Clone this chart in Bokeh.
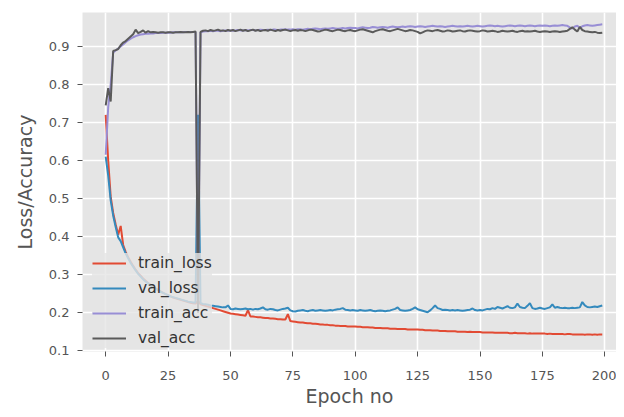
from bokeh.plotting import figure
from bokeh.models import Range1d, Legend, LegendItem, FixedTicker
from bokeh.embed import file_html
from bokeh.resources import INLINE

epochs = list(range(200))

train_loss = [
    0.720, 0.600, 0.505, 0.462, 0.432, 0.405, 0.428, 0.378, 0.360, 0.346,
    0.334, 0.323, 0.313, 0.304, 0.297, 0.290, 0.284, 0.278, 0.273, 0.268,
    0.264, 0.260, 0.256, 0.252, 0.249, 0.246, 0.243, 0.240, 0.238, 0.236,
    0.234, 0.232, 0.230, 0.228, 0.226, 0.225, 0.224, 0.232, 0.222, 0.220,
    0.218, 0.216, 0.214, 0.212, 0.210, 0.208, 0.206, 0.204, 0.202, 0.200,
    0.198, 0.197, 0.196, 0.195, 0.194, 0.193, 0.192, 0.207, 0.190, 0.190,
    0.189, 0.188, 0.188, 0.187, 0.186, 0.186, 0.185, 0.185, 0.184, 0.183,
    0.183, 0.182, 0.182, 0.196, 0.178, 0.177, 0.176, 0.175, 0.174, 0.174,
    0.173, 0.172, 0.172, 0.171, 0.171, 0.170, 0.169, 0.169, 0.168, 0.168,
    0.167, 0.167, 0.166, 0.166, 0.165, 0.165, 0.165, 0.164, 0.164, 0.164,
    0.164, 0.163, 0.163, 0.162, 0.162, 0.162, 0.161, 0.161, 0.160, 0.160,
    0.160, 0.159, 0.159, 0.159, 0.158, 0.158, 0.158, 0.157, 0.157, 0.157,
    0.157, 0.156, 0.156, 0.156, 0.156, 0.156, 0.155, 0.155, 0.154, 0.154,
    0.154, 0.153, 0.153, 0.153, 0.152, 0.152, 0.152, 0.151, 0.151, 0.151,
    0.151, 0.150, 0.150, 0.150, 0.150, 0.149, 0.150, 0.149, 0.149, 0.149,
    0.149, 0.148, 0.148, 0.148, 0.148, 0.148, 0.147, 0.147, 0.147, 0.147,
    0.147, 0.147, 0.146, 0.146, 0.147, 0.146, 0.146, 0.146, 0.146, 0.145,
    0.146, 0.145, 0.145, 0.145, 0.145, 0.145, 0.145, 0.144, 0.145, 0.144,
    0.144, 0.144, 0.144, 0.144, 0.143, 0.144, 0.144, 0.143, 0.143, 0.143,
    0.143, 0.143, 0.142, 0.143, 0.143, 0.142, 0.143, 0.142, 0.143, 0.143,
]

val_loss = [
    0.610, 0.560, 0.495, 0.455, 0.425, 0.398, 0.388, 0.372, 0.356, 0.343,
    0.331, 0.321, 0.311, 0.302, 0.295, 0.288, 0.282, 0.277, 0.272, 0.267,
    0.263, 0.259, 0.255, 0.252, 0.249, 0.246, 0.243, 0.241, 0.239, 0.237,
    0.235, 0.233, 0.231, 0.229, 0.228, 0.227, 0.226, 0.720, 0.225, 0.223,
    0.222, 0.221, 0.219, 0.218, 0.217, 0.216, 0.215, 0.214, 0.214, 0.219,
    0.210, 0.209, 0.211, 0.210, 0.209, 0.210, 0.211, 0.209, 0.210, 0.208,
    0.210, 0.209, 0.211, 0.214, 0.209, 0.208, 0.210, 0.209, 0.207, 0.206,
    0.208, 0.210, 0.211, 0.213, 0.206, 0.204, 0.203, 0.205, 0.206, 0.207,
    0.205, 0.204, 0.206, 0.207, 0.205, 0.206, 0.207, 0.206, 0.205, 0.206,
    0.207, 0.206, 0.208, 0.209, 0.210, 0.212, 0.208, 0.207, 0.206, 0.207,
    0.206, 0.205, 0.207, 0.206, 0.205, 0.206, 0.207, 0.205, 0.204, 0.205,
    0.206, 0.205, 0.204, 0.205, 0.206, 0.208, 0.210, 0.214, 0.207, 0.206,
    0.205, 0.206, 0.207, 0.210, 0.214, 0.209, 0.207, 0.205, 0.203, 0.201,
    0.206, 0.212, 0.219, 0.212, 0.210, 0.207, 0.208, 0.207, 0.206, 0.207,
    0.206, 0.207, 0.206, 0.205, 0.206, 0.207, 0.208, 0.211, 0.207, 0.206,
    0.207, 0.206, 0.208, 0.210, 0.209, 0.212, 0.210, 0.215, 0.213, 0.211,
    0.214, 0.217, 0.213, 0.212, 0.214, 0.224, 0.215, 0.213, 0.212, 0.218,
    0.225, 0.212, 0.210, 0.211, 0.213, 0.211, 0.210, 0.212, 0.214, 0.222,
    0.213, 0.215, 0.213, 0.212, 0.213, 0.212, 0.212, 0.213, 0.212, 0.213,
    0.214, 0.228, 0.219, 0.215, 0.214, 0.215, 0.216, 0.215, 0.217, 0.219,
]

train_acc = [
    0.615, 0.740, 0.800, 0.884, 0.889, 0.894, 0.900, 0.905, 0.911, 0.916,
    0.920, 0.924, 0.927, 0.929, 0.931, 0.932, 0.933, 0.933, 0.934, 0.934,
    0.935, 0.935, 0.935, 0.936, 0.936, 0.936, 0.936, 0.937, 0.937, 0.937,
    0.937, 0.937, 0.938, 0.938, 0.938, 0.938, 0.938, 0.220, 0.937, 0.939,
    0.940, 0.940, 0.941, 0.940, 0.941, 0.941, 0.940, 0.941, 0.942, 0.941,
    0.942, 0.941, 0.942, 0.943, 0.942, 0.942, 0.943, 0.942, 0.943, 0.943,
    0.942, 0.943, 0.944, 0.943, 0.943, 0.944, 0.943, 0.944, 0.944, 0.943,
    0.944, 0.944, 0.945, 0.944, 0.944, 0.945, 0.944, 0.945, 0.945, 0.944,
    0.945, 0.946, 0.945, 0.946, 0.947, 0.946, 0.945, 0.946, 0.947, 0.946,
    0.947, 0.948, 0.947, 0.946, 0.947, 0.948, 0.947, 0.948, 0.949, 0.948,
    0.948, 0.947, 0.949, 0.950, 0.949, 0.948, 0.949, 0.951, 0.950, 0.949,
    0.950, 0.951, 0.950, 0.949, 0.951, 0.952, 0.951, 0.950, 0.951, 0.952,
    0.951, 0.952, 0.953, 0.952, 0.951, 0.952, 0.953, 0.952, 0.951, 0.952,
    0.953, 0.954, 0.953, 0.952, 0.953, 0.952, 0.951, 0.952, 0.953, 0.954,
    0.953, 0.952, 0.953, 0.952, 0.953, 0.954, 0.953, 0.952, 0.953, 0.954,
    0.953, 0.952, 0.953, 0.954, 0.955, 0.954, 0.953, 0.954, 0.953, 0.952,
    0.953, 0.954, 0.955, 0.954, 0.953, 0.954, 0.955, 0.954, 0.953, 0.954,
    0.955, 0.954, 0.953, 0.954, 0.955, 0.954, 0.955, 0.954, 0.953, 0.954,
    0.955, 0.954, 0.955, 0.956, 0.955, 0.954, 0.950, 0.947, 0.952, 0.954,
    0.948, 0.953, 0.955, 0.956, 0.955, 0.954, 0.955, 0.956, 0.957, 0.958,
]

val_acc = [
    0.745, 0.790, 0.755, 0.888, 0.890, 0.893, 0.903, 0.910, 0.914, 0.920,
    0.926, 0.932, 0.944, 0.935, 0.938, 0.942, 0.936, 0.940, 0.937, 0.938,
    0.937, 0.936, 0.937, 0.937, 0.936, 0.937, 0.937, 0.936, 0.937, 0.937,
    0.938, 0.937, 0.937, 0.938, 0.937, 0.938, 0.939, 0.200, 0.938, 0.941,
    0.942, 0.940, 0.943, 0.941, 0.942, 0.944, 0.941, 0.942, 0.940, 0.943,
    0.941, 0.943, 0.940, 0.942, 0.944, 0.941, 0.943, 0.940, 0.942, 0.944,
    0.941, 0.943, 0.940, 0.942, 0.943, 0.941, 0.944, 0.942, 0.940, 0.943,
    0.941, 0.943, 0.944, 0.942, 0.940, 0.942, 0.943, 0.941, 0.943, 0.942,
    0.940, 0.942, 0.944, 0.943, 0.941, 0.939, 0.940, 0.942, 0.944, 0.943,
    0.941, 0.940, 0.942, 0.944, 0.943, 0.941, 0.940, 0.942, 0.943, 0.941,
    0.940, 0.942, 0.944, 0.945, 0.943, 0.941, 0.939, 0.937, 0.940, 0.942,
    0.944, 0.945, 0.943, 0.941, 0.940, 0.942, 0.944, 0.946, 0.944, 0.942,
    0.940, 0.941, 0.943, 0.942, 0.940, 0.938, 0.934, 0.937, 0.940, 0.942,
    0.941, 0.940, 0.942, 0.943, 0.941, 0.939, 0.940, 0.942, 0.941, 0.939,
    0.940, 0.941, 0.942, 0.940, 0.939, 0.941, 0.942, 0.941, 0.940, 0.939,
    0.940, 0.942, 0.941, 0.939, 0.940, 0.941, 0.940, 0.938, 0.939, 0.941,
    0.940, 0.939, 0.940, 0.941, 0.939, 0.938, 0.940, 0.941, 0.939, 0.940,
    0.939, 0.940, 0.941, 0.939, 0.938, 0.939, 0.940, 0.939, 0.938, 0.939,
    0.940, 0.939, 0.938, 0.939, 0.940, 0.941, 0.946, 0.950, 0.944, 0.939,
    0.951, 0.943, 0.940, 0.939, 0.938, 0.937, 0.938, 0.936, 0.935, 0.936,
]

x_ticks = [0, 25, 50, 75, 100, 125, 150, 175, 200]
y_ticks = [0.1, 0.2, 0.3, 0.4, 0.5, 0.6, 0.7, 0.8, 0.9]

series = [
    ("train_loss", train_loss, "#E24A33"),
    ("val_loss", val_loss, "#348ABD"),
    ("train_acc", train_acc, "#988ED5"),
    ("val_acc", val_acc, "#5a5a5a"),
]

FONT = "DejaVu Sans"

p = figure(width=616, height=409, output_backend="svg", toolbar_location=None,
           x_range=Range1d(-9.3, 204.7), y_range=Range1d(0.098, 0.989),
           min_border_left=82, min_border_right=0, min_border_top=12,
           min_border_bottom=53)

p.background_fill_color = "#E5E5E5"
p.border_fill_color = "white"
p.outline_line_color = None

p.xaxis.ticker = FixedTicker(ticks=x_ticks)
p.yaxis.ticker = FixedTicker(ticks=y_ticks)
p.xgrid.ticker = FixedTicker(ticks=x_ticks)
p.ygrid.ticker = FixedTicker(ticks=y_ticks)
p.grid.grid_line_color = "white"
p.grid.grid_line_width = 1.6

for ax in (p.xaxis, p.yaxis):
    ax.axis_line_color = None
    ax.major_tick_line_color = "#555555"
    ax.major_tick_out = 5
    ax.major_tick_in = 0
    ax.minor_tick_line_color = None
    ax.major_label_text_color = "#555555"
    ax.major_label_text_font = FONT
    ax.major_label_text_font_size = "13px"
    ax.axis_label_text_font = FONT
    ax.axis_label_text_font_size = "19px"
    ax.axis_label_text_font_style = "normal"
    ax.axis_label_text_color = "#555555"

p.xaxis.axis_label = "Epoch no"
p.yaxis.axis_label = "Loss/Accuracy"
p.xaxis.major_label_standoff = 14
p.yaxis.major_label_standoff = 8
p.xaxis.axis_label_standoff = 2
p.yaxis.axis_label_standoff = 10

items = []
for name, vals, color in series:
    r = p.line(epochs, vals, line_color=color, line_width=2)
    items.append(LegendItem(label=name, renderers=[r]))

legend = Legend(items=items, location=(10, 3))
legend.background_fill_color = "#E5E5E5"
legend.background_fill_alpha = 0.8
legend.border_line_color = None
legend.label_text_font = FONT
legend.label_text_font_size = "15.5px"
legend.label_text_color = "#333333"
legend.glyph_width = 34
legend.glyph_height = 20
legend.label_height = 20
legend.spacing = 5
legend.padding = 10
legend.label_standoff = 12
legend.margin = 0
p.add_layout(legend)

open("out.html", "w").write(file_html(p, INLINE))
